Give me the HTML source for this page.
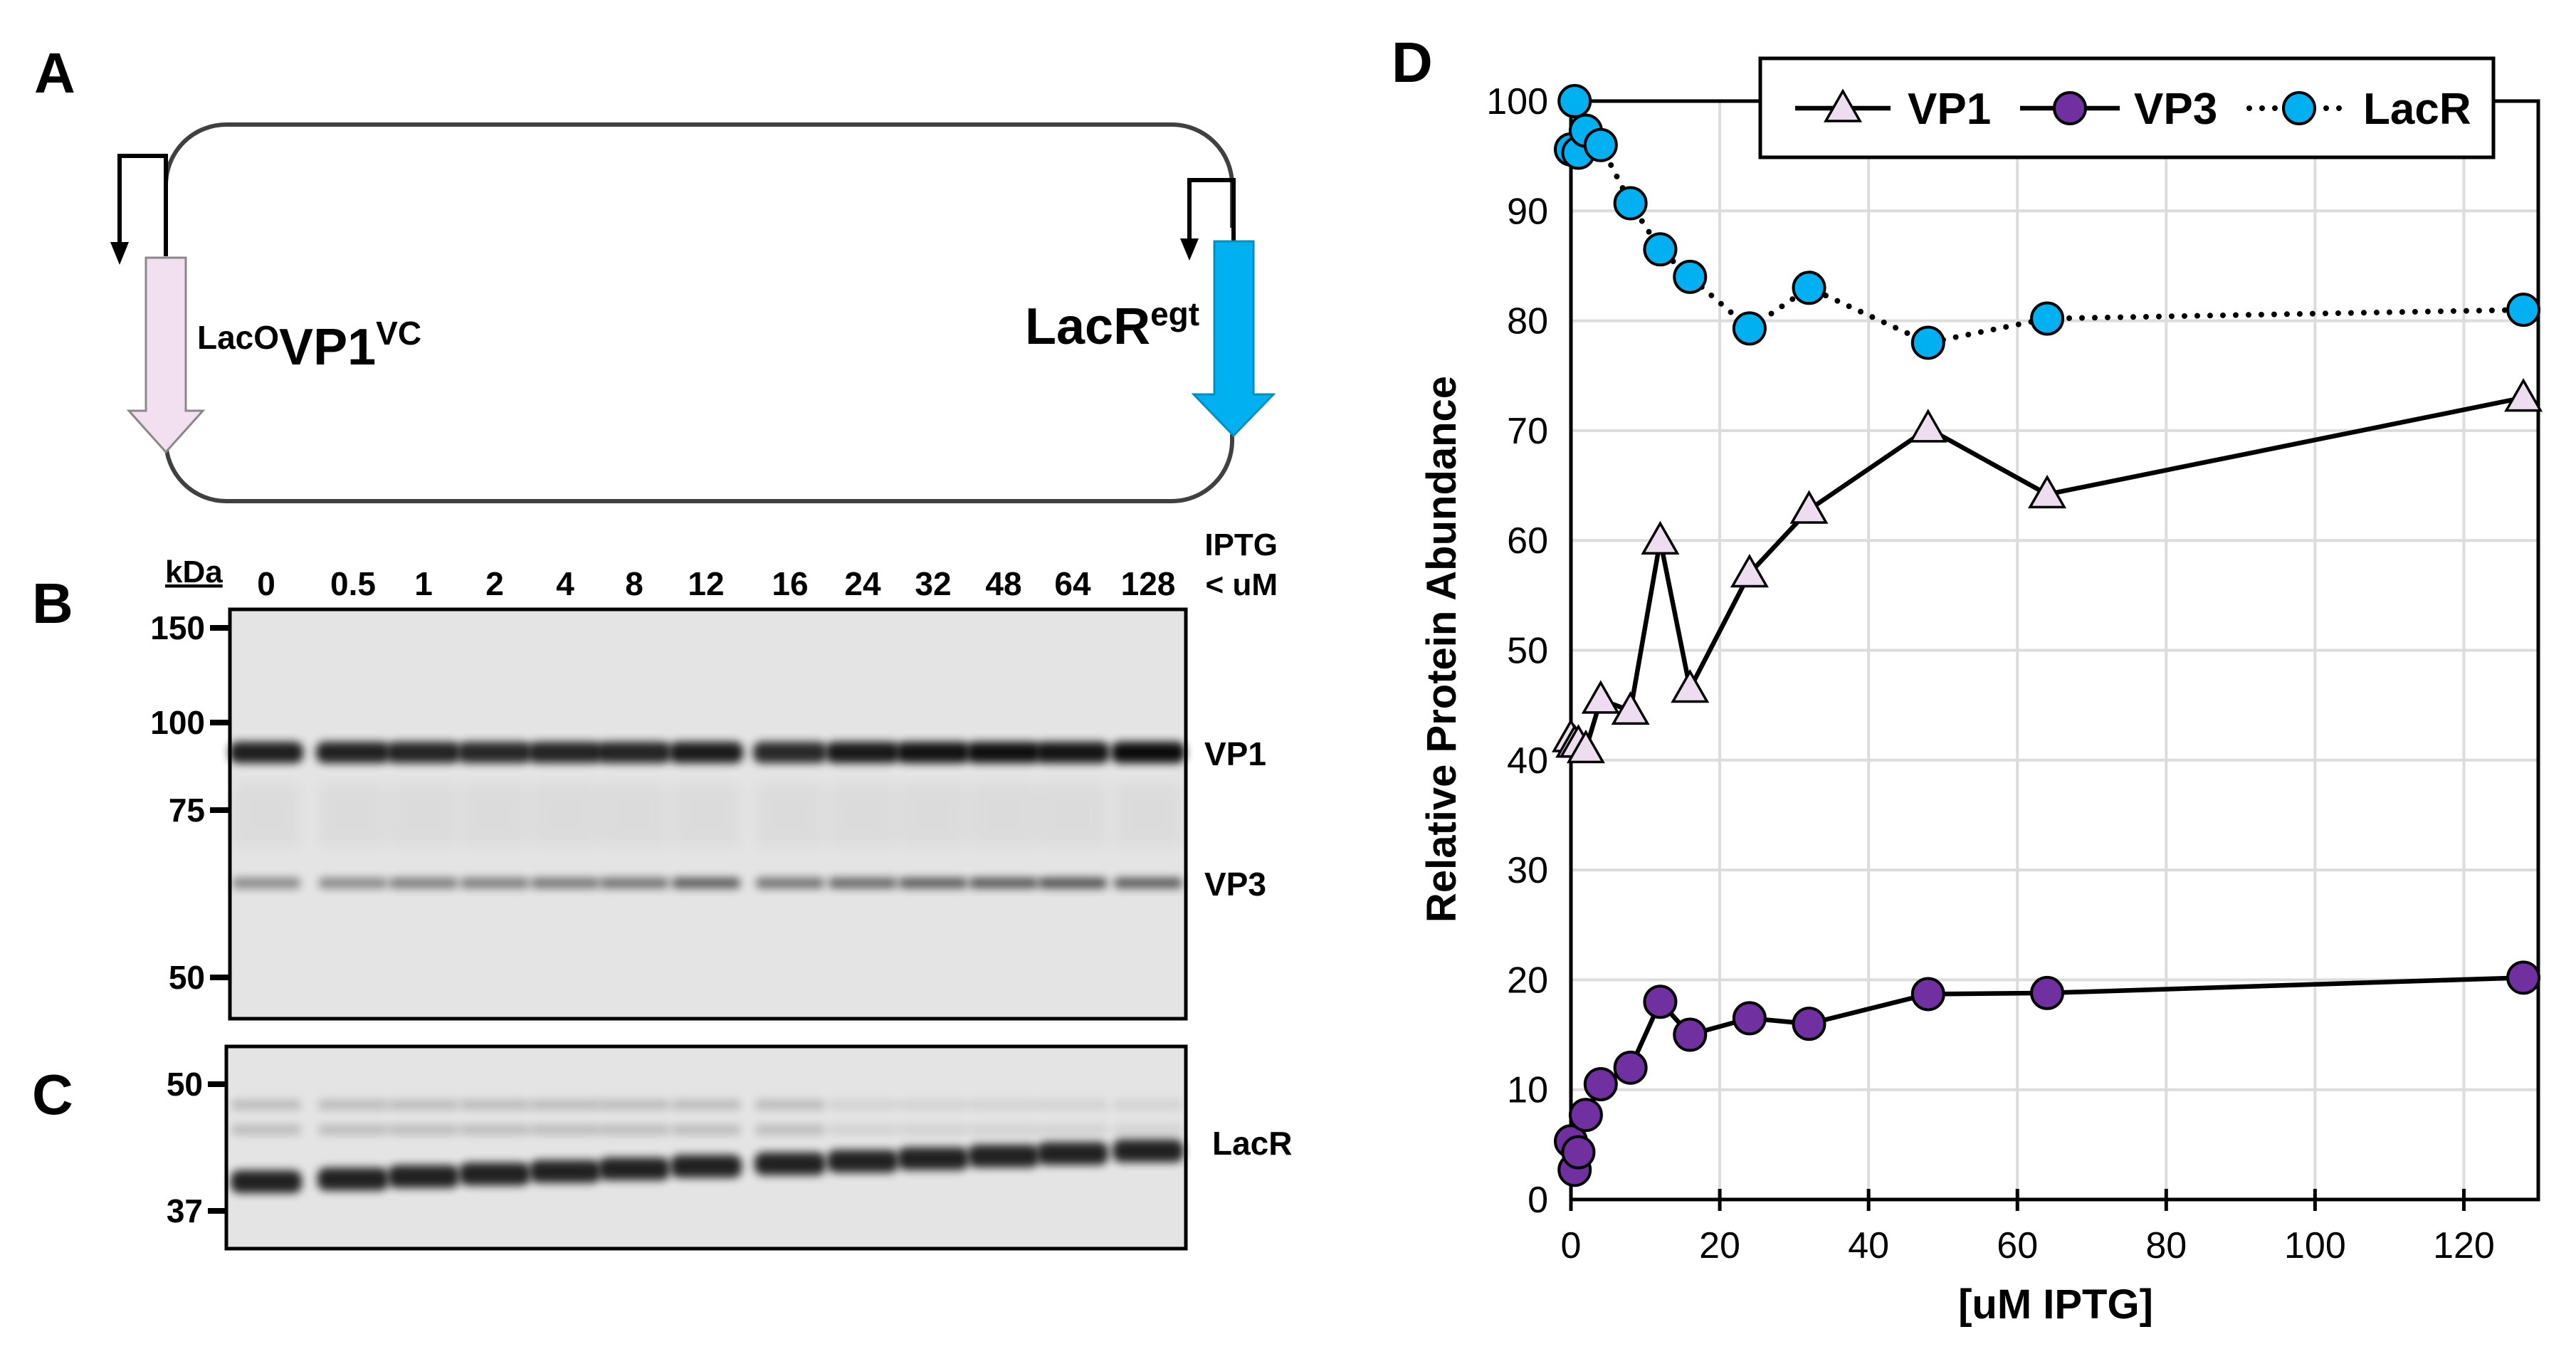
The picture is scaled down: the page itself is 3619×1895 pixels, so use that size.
<!DOCTYPE html>
<html><head><meta charset="utf-8"><style>
html,body{margin:0;padding:0;background:#fff}
svg{display:block}
text{font-family:"Liberation Sans",Arial,sans-serif}
</style></head><body>
<svg id="fig" width="3619" height="1895" viewBox="0 0 3619 1895" xmlns="http://www.w3.org/2000/svg">
<defs>
<filter id="blur" x="-30%" y="-80%" width="160%" height="260%"><feGaussianBlur stdDeviation="6"/></filter>
<filter id="blur2" x="-30%" y="-80%" width="160%" height="260%"><feGaussianBlur stdDeviation="10"/></filter>
</defs>
<g>
<text x="48" y="130" font-size="80" font-weight="bold">A</text>
<rect x="233" y="175" width="1498" height="529" rx="85" fill="none" stroke="#404040" stroke-width="6"/>
<rect x="229" y="330" width="10" height="290" fill="#fff"/>
<rect x="1727" y="320" width="10" height="290" fill="#fff"/>
<polyline points="233,360 233,219 168,219 168,345" fill="none" stroke="#000" stroke-width="6"/>
<polygon points="155,340 181,340 168,372" fill="#000"/>
<polygon points="205,362 261,362 261,577 285,577 233,635 181,577 205,577" fill="#f2dff0" stroke="#888" stroke-width="3"/>
<polyline points="1733,340 1733,253 1671,253 1671,340" fill="none" stroke="#000" stroke-width="6"/>
<polygon points="1658,335 1684,335 1671,366" fill="#000"/>
<polygon points="1706,339 1761,339 1761,554 1789,554 1733,612 1677,554 1706,554" fill="#00b0f0" stroke="#0090c0" stroke-width="3"/>
<text x="277" y="512" font-weight="bold"><tspan font-size="46" dy="-22">LacO</tspan><tspan font-size="72" dy="22">VP1</tspan><tspan font-size="46" dy="-28">VC</tspan></text>
<text x="1440" y="483" font-weight="bold"><tspan font-size="72">LacR</tspan><tspan font-size="46" dy="-26">egt</tspan></text>
</g>
<g>
<text x="45" y="875" font-size="80" font-weight="bold">B</text>
<text x="232" y="818" font-size="44" font-weight="bold" text-decoration="underline">kDa</text>
<text x="1795" y="780" font-size="44" font-weight="bold" text-anchor="end">IPTG</text>
<text x="1795" y="836" font-size="44" font-weight="bold" text-anchor="end">&lt; uM</text>
<g id="laneLabels"></g>
<rect x="323" y="856" width="1343" height="575" fill="#e4e4e4" stroke="#000" stroke-width="5"/>
<g id="gelB"></g>
<g id="markersB"></g>
<text x="1692" y="1075" font-size="46" font-weight="bold">VP1</text>
<text x="1692" y="1258" font-size="46" font-weight="bold">VP3</text>
</g>
<g>
<text x="45" y="1565" font-size="80" font-weight="bold">C</text>
<rect x="318" y="1470" width="1348" height="284" fill="#e4e4e4" stroke="#000" stroke-width="5"/>
<g id="gelC"></g>
<g id="markersC"></g>
<text x="1703" y="1622" font-size="46" font-weight="bold">LacR</text>
</g>
<g>
<text x="1955" y="115" font-size="80" font-weight="bold">D</text>
<g id="grid"></g>
<g id="axes"></g>
<g id="series"></g>
<text transform="translate(2045,912) rotate(-90)" font-size="58" font-weight="bold" text-anchor="middle">Relative Protein Abundance</text>
<text x="2888" y="1852" font-size="58" font-weight="bold" text-anchor="middle">[uM IPTG]</text>
<g id="legend"></g>
</g>
</svg>
<script>
const iptg = [0, 0.5, 1, 2, 4, 8, 12, 16, 24, 32, 48, 64, 128];
const vp1 = [42, 41.5, 41.5, 41, 45.5, 44.5, 60, 46.5, 57, 62.8, 70.2, 64.2, 73];
const vp3 = [5.3, 2.7, 4.3, 7.7, 10.5, 12, 18, 15, 16.5, 16, 18.7, 18.8, 20.2];
const lacr = [95.6, 100, 95.3, 97.3, 96, 90.7, 86.5, 84, 79.3, 83, 78, 80.2, 81];
const laneLabels = ["0","0.5","1","2","4","8","12","16","24","32","48","64","128"];
const xTicks = [0, 20, 40, 60, 80, 100, 120];
const yTicks = [0, 10, 20, 30, 40, 50, 60, 70, 80, 90, 100];
const gelBMarkers = ["150","100","75","50"];
const gelCMarkers = ["50","37"];
const vp1Band = [0.78, 0.75, 0.72, 0.68, 0.72, 0.72, 0.82, 0.66, 0.85, 0.92, 0.95, 0.9, 1.0];
const vp3Band = [0.4, 0.4, 0.45, 0.45, 0.48, 0.5, 0.6, 0.5, 0.55, 0.6, 0.62, 0.65, 0.6];

const NS = "http://www.w3.org/2000/svg";
function mk(tag, attrs, parent){const e=document.createElementNS(NS,tag);for(const k in attrs)e.setAttribute(k,attrs[k]);parent.appendChild(e);return e;}

const X0=2207, X1=3566, Y0=1685, Y1=142;
const xs = v => X0 + (v/130)*(X1-X0);
const ys = v => Y0 - (v/100)*(Y0-Y1);

const grid=document.getElementById('grid');
xTicks.forEach(t=>{ if(t>0){const l=mk('line',{x1:xs(t),x2:xs(t),y1:Y1,y2:Y0,stroke:'#dcdcdc','stroke-width':4},grid);

}});
yTicks.forEach(t=>{ if(t>0){const l=mk('line',{x1:X0,x2:X1,y1:ys(t),y2:ys(t),stroke:'#dcdcdc','stroke-width':4},grid);

}});

const axes=document.getElementById('axes');
const fr=mk('rect',{x:X0,y:Y1,width:X1-X0,height:Y0-Y1,fill:'none',stroke:'#000','stroke-width':5},axes);


xTicks.forEach(t=>{
  const tk=mk('line',{x1:xs(t),x2:xs(t),y1:Y0-15,y2:Y0+16,stroke:'#000','stroke-width':5},axes);
  
  
  const tx=mk('text',{x:xs(t),y:Y0+82,'font-size':52,'text-anchor':'middle'},axes);
  tx.textContent=t;
  
  
});
yTicks.forEach(t=>{
  const tx=mk('text',{x:X0-32,y:ys(t)+18,'font-size':52,'text-anchor':'end'},axes);
  tx.textContent=t;
  
  
});

const ser=document.getElementById('series');
function tri(cx,cy,g,name){const r=24;const p=mk('polygon',{points:`${cx},${cy-r} ${cx+r*1.0},${cy+r*0.75} ${cx-r*1.0},${cy+r*0.75}`,fill:'#eedcf0',stroke:'#000','stroke-width':3.5},g);

}
function circ(cx,cy,fill,g,name){const c=mk('circle',{cx:cx,cy:cy,r:22,fill:fill,stroke:'#000','stroke-width':4},g);

}
function pts(arr){return iptg.map((x,i)=>xs(x)+','+ys(arr[i])).join(' ');}

const gL=mk('g',{},ser);


const lL=mk('polyline',{points:pts(lacr),fill:'none',stroke:'#000','stroke-width':8,'stroke-dasharray':'0 18','stroke-linecap':'round'},gL);


iptg.forEach((x,i)=>circ(xs(x),ys(lacr[i]),'#00b0f0',gL,'lacr-point'));

const gV1=mk('g',{},ser);


const l1=mk('polyline',{points:pts(vp1),fill:'none',stroke:'#000','stroke-width':6.5},gV1);


iptg.forEach((x,i)=>tri(xs(x),ys(vp1[i]),gV1,'vp1-point'));

const gV3=mk('g',{},ser);


const l3=mk('polyline',{points:pts(vp3),fill:'none',stroke:'#000','stroke-width':6.5},gV3);


iptg.forEach((x,i)=>circ(xs(x),ys(vp3[i]),'#7030a0',gV3,'vp3-point'));

const lg=document.getElementById('legend');
const lb=mk('rect',{x:2473,y:82,width:1030,height:139,fill:'#fff',stroke:'#000','stroke-width':5},lg);


const LY=152;
[[2522,2656,'VP1',2680],[2838,2978,'VP3',2998],[3160,3300,'LacR',3320]].forEach((e,i)=>{
  const g=mk('g',{},lg);
  
  
  const ln=mk('line',{x1:e[0],x2:e[1],y1:LY,y2:LY,stroke:'#000','stroke-width':i==2?8:6.5},g);
  if(i==2){ln.setAttribute('stroke-dasharray','0 18');ln.setAttribute('stroke-linecap','round');}
  const mx=(e[0]+e[1])/2;
  if(i==0) tri(mx,LY,g,'legend-marker'); else circ(mx,LY,i==1?'#7030a0':'#00b0f0',g,'legend-marker');
  const t=mk('text',{x:e[3],y:LY+22,'font-size':62,'font-weight':'bold'},g);
  t.textContent=e[2];
  
  
});

const laneX=[374,496,595,695,794,891,992,1110,1212,1311,1410,1507,1613];
const ll=document.getElementById('laneLabels');
laneLabels.forEach((s,i)=>{const t=mk('text',{x:laneX[i],y:836,'font-size':46,'font-weight':'bold','text-anchor':'middle'},ll);
t.textContent=s;

});
const gB=document.getElementById('gelB');
laneX.forEach((x,i)=>{
  const a=mk('rect',{x:x-52,y:1042,width:104,height:30,rx:12,fill:'#000',opacity:0.55+0.4*vp1Band[i],filter:'url(#blur)'},gB);
  
  
  const b=mk('rect',{x:x-48,y:1233,width:96,height:15,rx:6,fill:'#000',opacity:vp3Band[i],filter:'url(#blur)'},gB);
  
  
  const f=mk('rect',{x:x-48,y:1100,width:96,height:90,fill:'#000',opacity:0.03,filter:'url(#blur2)'},gB);
  
  
});
const gC=document.getElementById('gelC');
laneX.forEach((x,i)=>{
  const yy=1660 - i*3.6;
  const a=mk('rect',{x:x-50,y:yy-16,width:100,height:32,rx:12,fill:'#000',opacity:0.85,filter:'url(#blur)'},gC);
  
  
  [1545,1580].forEach(by=>{
    const b=mk('rect',{x:x-48,y:by,width:96,height:14,fill:'#000',opacity:i<8?0.18:0.08,filter:'url(#blur)'},gC);
    
    
  });
});
const mkB=document.getElementById('markersB');
const mBy=[882,1015,1138,1373];
gelBMarkers.forEach((s,i)=>{
  const l=mk('line',{x1:295,x2:323,y1:mBy[i],y2:mBy[i],stroke:'#000','stroke-width':8},mkB);
  
  
  const t=mk('text',{x:288,y:mBy[i]+16,'font-size':46,'font-weight':'bold','text-anchor':'end'},mkB);
  t.textContent=s;
  
  
});
const mkC=document.getElementById('markersC');
const mCy=[1523,1701];
gelCMarkers.forEach((s,i)=>{
  const l=mk('line',{x1:292,x2:318,y1:mCy[i],y2:mCy[i],stroke:'#000','stroke-width':8},mkC);
  
  
  const t=mk('text',{x:285,y:mCy[i]+16,'font-size':46,'font-weight':'bold','text-anchor':'end'},mkC);
  t.textContent=s;
  
  
});
</script>
</body></html>
